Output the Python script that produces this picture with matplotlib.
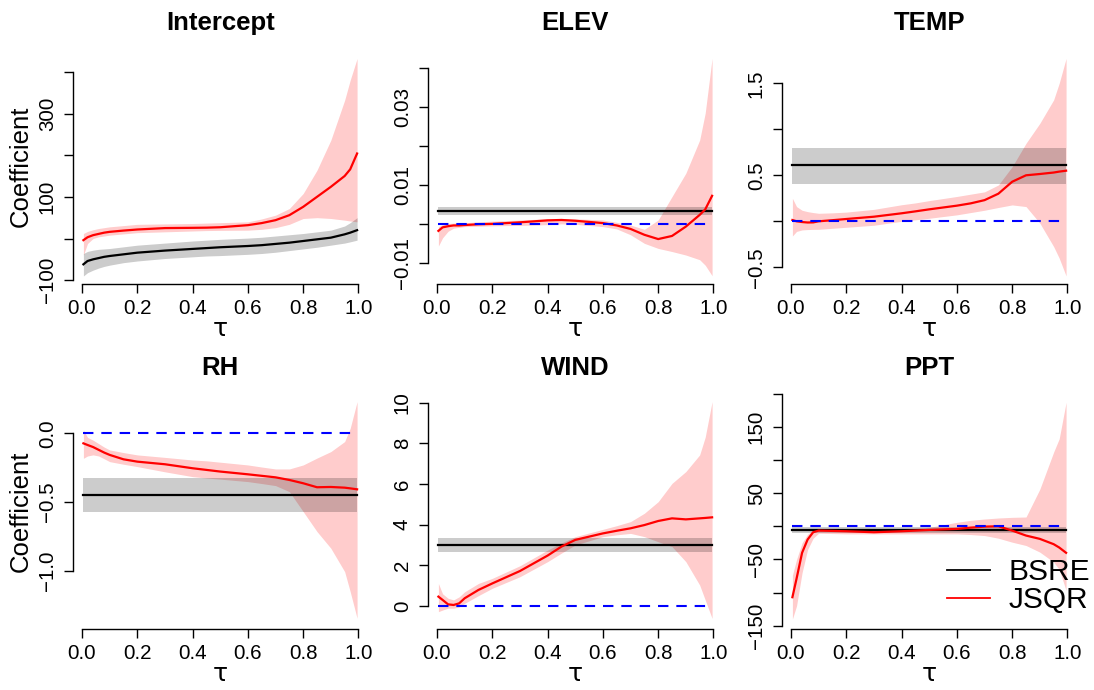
import numpy as np
import matplotlib
matplotlib.use("Agg")
import matplotlib.pyplot as plt
from matplotlib.lines import Line2D

plt.rcParams['font.family'] = ['Liberation Sans', 'DejaVu Sans']

titles = ["Intercept", "ELEV", "TEMP", "RH", "WIND", "PPT"]

tau = [0.005, 0.02, 0.04, 0.06, 0.08, 0.1, 0.15, 0.2, 0.3, 0.4, 0.45, 0.5,
       0.6, 0.65, 0.7, 0.75, 0.8, 0.85, 0.9, 0.95, 0.97, 0.995]

# JSQR estimate and band (red)
jsqr = [
    [-4, 3, 8, 11, 14, 16, 19, 21.6, 25, 25.6, 26, 27, 32, 37, 44, 56, 76, 100, 124, 150, 166, 204],
    [-0.0017, -0.0008, -0.0005, -0.0003, -0.0003, -0.0002, 0.0, 0.0001, 0.0005, 0.0010, 0.0011, 0.0009,
     0.0003, -0.0003, -0.0012, -0.0027, -0.0038, -0.0030, -0.0006, 0.0024, 0.0038, 0.0073],
    [0.014, 0.0, -0.008, -0.013, -0.012, 0.0, 0.012, 0.025, 0.05, 0.087, 0.108, 0.13,
     0.17, 0.195, 0.23, 0.30, 0.43, 0.50, 0.514, 0.53, 0.54, 0.55],
    [-0.073, -0.085, -0.10, -0.12, -0.14, -0.157, -0.189, -0.206, -0.225, -0.254, -0.266, -0.278,
     -0.298, -0.309, -0.320, -0.339, -0.363, -0.392, -0.39, -0.395, -0.40, -0.407],
    [0.46, 0.3, 0.08, 0.05, 0.13, 0.38, 0.79, 1.11, 1.72, 2.48, 2.92, 3.25,
     3.57, 3.70, 3.82, 3.98, 4.18, 4.31, 4.26, 4.31, 4.33, 4.36],
    [-107, -79, -40, -20, -9, -6.5, -7, -7.5, -9, -7.5, -6.5, -5.5,
     -4, -2, -0.5, 0, -6.5, -14, -19, -27, -32, -40],
]
jsqr_lo = [
    [-40, -12, 0, 4, 6, 8, 11, 14, 16, 18, 19, 19.5, 20, 22, 26, 34, 48, 50, 48, 44, 42, 40],
    [-0.0056, -0.0035, -0.0018, -0.0010, -0.0008, -0.0006, -0.0005, -0.0004, -0.0003, -0.0001, 0.0001, 0.0,
     -0.0006, -0.0012, -0.0027, -0.0049, -0.0062, -0.0070, -0.0079, -0.0091, -0.0105, -0.0132],
    [-0.16, -0.11, -0.094, -0.09, -0.088, -0.087, -0.076, -0.065, -0.043, 0.0, 0.016, 0.033,
     0.07, 0.095, 0.12, 0.15, 0.178, 0.16, -0.02, -0.275, -0.40, -0.594],
    [-0.182, -0.165, -0.157, -0.165, -0.185, -0.206, -0.225, -0.242, -0.28, -0.315, -0.325, -0.333,
     -0.351, -0.365, -0.38, -0.424, -0.569, -0.714, -0.835, -1.005, -1.15, -1.344],
    [-0.28, -0.2, -0.11, -0.11, -0.05, 0.13, 0.51, 0.87, 1.44, 2.18, 2.6, 3.0,
     3.41, 3.5, 3.57, 3.41, 3.16, 2.92, 2.18, 1.03, 0.3, -0.61],
    [-140, -120, -70, -35, -18, -10.5, -11, -11.5, -11.5, -11.5, -11.5, -11.5,
     -11.5, -12.5, -14, -18, -24, -29, -39, -54, -65, -97],
]
jsqr_hi = [
    [12, 17, 21, 24, 26, 28, 31, 34, 35, 36, 37, 38, 40, 47, 56, 72, 108, 164, 236, 332, 380, 432],
    [-0.0006, -0.0001, 0.0002, 0.0003, 0.0004, 0.0004, 0.0006, 0.0008, 0.0011, 0.0014, 0.0015, 0.0014,
     0.0011, 0.0005, -0.0002, -0.0013, 0.0011, 0.0071, 0.0131, 0.0216, 0.0285, 0.0426],
    [0.25, 0.16, 0.12, 0.105, 0.095, 0.087, 0.092, 0.10, 0.13, 0.18, 0.20, 0.225,
     0.27, 0.295, 0.32, 0.395, 0.594, 0.848, 1.065, 1.32, 1.5, 1.77],
    [0.024, -0.03, -0.05, -0.075, -0.10, -0.121, -0.14, -0.157, -0.175, -0.194, -0.20, -0.21,
     -0.23, -0.245, -0.259, -0.259, -0.23, -0.18, -0.133, -0.06, 0.036, 0.23],
    [1.11, 0.6, 0.38, 0.3, 0.45, 0.70, 1.11, 1.36, 1.98, 2.75, 3.1, 3.41,
     3.77, 3.95, 4.15, 4.56, 5.13, 6.03, 6.61, 7.43, 8.3, 10.05],
    [-74, -50, -25, -12, -6, -4, -4, -4, -4, -4, -3, -1.5,
     6, 9, 11, 12.5, 13.5, 14, 56, 112, 132, 187],
]

# BSRE estimate and band (black/gray)
bsre = [
    [-62, -54, -50, -47, -44, -42, -38, -34, -29, -25, -23, -21,
     -18, -16, -13, -10, -6, -2, 2, 10, 14, 20],
    0.0033, 0.616, -0.448, 3.0, -5.5,
]
bsre_lo = [
    [-90, -82, -76, -71, -67, -64, -58, -54, -48, -44, -42, -41,
     -38, -36, -33, -29, -25, -21, -16, -11, -8, -4],
    0.0023, 0.402, -0.569, 2.67, -10,
]
bsre_hi = [
    [-36, -31, -28, -26, -25, -24, -20, -16, -11, -6, -4, -2,
     1, 3, 6, 9, 12, 16, 20, 30, 38, 50],
    0.0044, 0.793, -0.327, 3.33, -1.5,
]

show_zero = [False, True, True, True, True, True]

yticks = [
    [-100, 0, 100, 200, 300, 400],
    [-0.01, 0.0, 0.01, 0.02, 0.03, 0.04],
    [-0.5, 0.0, 0.5, 1.0, 1.5],
    [-1.0, -0.5, 0.0],
    [0, 2, 4, 6, 8, 10],
    [-150, -100, -50, 0, 50, 100, 150, 200],
]
ytick_labels = [
    ["\u2212100", "", "100", "", "300", ""],
    ["\u22120.01", "", "0.01", "", "0.03", ""],
    ["\u22120.5", "", "0.5", "", "1.5"],
    ["\u22121.0", "\u22120.5", "0.0"],
    ["0", "2", "4", "6", "8", "10"],
    ["\u2212150", "", "\u221250", "", "50", "", "150", ""],
]
ylims = [(-108, 456), (-0.0152, 0.0451), (-0.676, 1.878),
         (-1.418, 0.289), (-1.107, 10.45), (-154.2, 200.3)]

xticks = [0.0, 0.2, 0.4, 0.6, 0.8, 1.0]

W, H = 1094, 690
fig = plt.figure(figsize=(W / 100, H / 100), dpi=100)

lefts = [72.9, 427.9, 781.9]
bottoms = [283.5, 628.5]
aw, ah = 294.7, 235

tau = np.array(tau)
for i, name in enumerate(titles):
    r, c = divmod(i, 3)
    ax = fig.add_axes([lefts[c] / W, 1 - bottoms[r] / H, aw / W, ah / H])

    ax.fill_between(tau, jsqr_lo[i], jsqr_hi[i], color=(1, 0, 0, 0.2), lw=0)
    if np.ndim(bsre[i]) == 0:
        b = np.full(len(tau), bsre[i])
        blo = np.full(len(tau), bsre_lo[i])
        bhi = np.full(len(tau), bsre_hi[i])
    else:
        b, blo, bhi = bsre[i], bsre_lo[i], bsre_hi[i]
    ax.fill_between(tau, blo, bhi, color=(0, 0, 0, 0.2), lw=0)
    ax.plot(tau, b, color='black', lw=1.6)
    ax.plot(tau, jsqr[i], color='red', lw=1.6)
    if show_zero[i]:
        ax.plot(tau, np.zeros(len(tau)), color='blue', lw=1.5, ls=(0, (5, 3.8)))

    ax.set_xlim(-0.033, 1.033)
    ax.set_ylim(*ylims[i])
    ax.set_xticks(xticks)
    ax.set_xticklabels([f"{t:.1f}" for t in xticks])
    ax.set_yticks(yticks[i])
    ax.set_yticklabels(ytick_labels[i], rotation=90, va='center')
    for s in ['top', 'right']:
        ax.spines[s].set_visible(False)
    ax.spines['left'].set_bounds(yticks[i][0], yticks[i][-1])
    ax.spines['bottom'].set_bounds(0, 1)
    for s in ['left', 'bottom']:
        ax.spines[s].set_linewidth(1.0)
    ax.tick_params(length=6.5, width=1.0, labelsize=14.8, pad=5)
    ax.set_title(name, fontsize=18.5, fontweight='bold', pad=13)
    ax.set_xlabel("\u03c4", fontsize=18, labelpad=-1, family=['DejaVu Sans'])
    if c == 0:
        ax.set_ylabel("Coefficient", fontsize=18.5, labelpad=4)
    if i == 5:
        handles = [Line2D([], [], color='black', lw=1.3),
                   Line2D([], [], color='red', lw=1.3)]
        fig.legend(handles, ["BSRE", "JSQR"], loc='lower right',
                   bbox_to_anchor=(1090 / W, 1 - 614 / H), frameon=False,
                   fontsize=21.5, handlelength=1.45, handletextpad=0.6,
                   labelspacing=0.0, borderpad=0, borderaxespad=0)

fig.savefig("out.png", dpi=100)
